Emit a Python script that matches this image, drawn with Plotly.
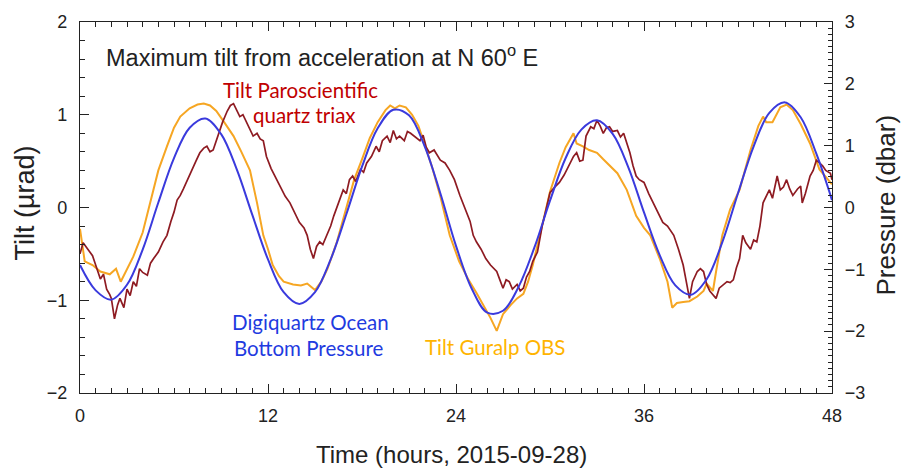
import plotly.graph_objects as go

# ---------------- data ----------------
hours_blue = list(range(0, 49))
pressure_dbar = [-0.93, -1.34, -1.49, -1.25, -0.68, 0.08, 0.80, 1.29, 1.44, 1.19, 0.62, -0.12,
                 -0.84, -1.37, -1.56, -1.37, -0.84, -0.11, 0.66, 1.28, 1.58, 1.49, 0.99, 0.23,
                 -0.62, -1.31, -1.70, -1.67, -1.28, -0.65, 0.11, 0.80, 1.26, 1.41, 1.19, 0.65,
                 -0.08, -0.77, -1.26, -1.41, -1.16, -0.56, 0.23, 0.99, 1.53, 1.70, 1.46, 0.87, 0.12]

hours_guralp = [0, 0.3, 0.8, 1.3, 1.9, 2.3, 2.6, 2.9, 3.4, 4.0, 4.5, 5.0, 5.55, 6.0, 6.4, 7.0, 7.5, 7.9,
                8.3, 8.7, 9.2, 9.8, 10.3, 10.85, 11.3, 11.7, 12.0, 12.3, 12.7, 13.0, 13.6, 14.1, 14.5,
                14.8, 15.0, 15.4, 15.8, 16.4, 17.0, 17.5, 18.0, 18.5, 19.0, 19.5, 19.8, 20.1, 20.4,
                20.8, 21.2, 21.6, 22.0, 22.5, 23.0, 23.6, 24.2, 24.8, 25.3, 25.8, 26.2, 26.6, 27.0,
                27.5, 27.9, 28.3, 28.6, 28.9, 29.3, 29.7, 30.0, 30.6, 31.0, 31.5, 31.7, 32.1, 32.5,
                33.0, 33.4, 33.8, 34.3, 34.9, 35.5, 36.0, 36.4, 37.0, 37.5, 37.8, 38.1, 38.5, 38.9,
                39.4, 39.8, 40.0, 40.4, 40.6, 41.0, 41.5, 42.1, 42.8, 43.3, 43.6, 43.8, 44.2, 44.7,
                45.1, 45.5, 46.0, 46.6, 47.2, 47.6, 48.0]
tilt_guralp = [-0.23, -0.58, -0.62, -0.69, -0.72, -0.66, -0.80, -0.70, -0.53, -0.27, 0.05, 0.40, 0.66,
               0.86, 0.98, 1.07, 1.11, 1.12, 1.10, 1.04, 0.92, 0.77, 0.60, 0.40, 0.05, -0.30, -0.45,
               -0.62, -0.74, -0.80, -0.83, -0.84, -0.82, -0.86, -0.89, -0.80, -0.66, -0.37, 0.00,
               0.30, 0.52, 0.75, 0.92, 1.05, 1.10, 1.07, 1.10, 1.08, 1.00, 0.88, 0.68, 0.42, 0.12,
               -0.30, -0.58, -0.78, -0.92, -1.07, -1.19, -1.33, -1.15, -1.05, -0.98, -0.93, -0.80,
               -0.62, -0.35, -0.05, 0.17, 0.48, 0.65, 0.80, 0.69, 0.66, 0.62, 0.59, 0.52, 0.45, 0.37,
               0.19, -0.09, -0.22, -0.30, -0.55, -0.80, -1.08, -1.03, -1.02, -1.01, -0.96, -0.90,
               -0.82, -0.90, -0.69, -0.30, -0.02, 0.19, 0.62, 0.88, 0.98, 0.92, 0.92, 1.08, 1.11,
               1.05, 0.90, 0.69, 0.41, 0.33, 0.25]

hours_paro = [0, 0.2, 0.5, 0.8, 1.0, 1.3, 1.5, 1.7, 1.9, 2.0, 2.2, 2.4, 2.55, 2.8, 3.0, 3.2, 3.4,
              3.6, 3.8, 4.0, 4.3, 4.5, 4.7, 5.0, 5.3, 5.55, 5.8, 6.0, 6.2, 6.4, 6.6, 6.8, 7.0, 7.2,
              7.4, 7.65, 7.9, 8.1, 8.3, 8.5, 8.7, 8.9, 9.1, 9.4, 9.6, 9.8, 10.0, 10.2, 10.4, 10.7,
              10.9, 11.05, 11.3, 11.5, 11.7, 11.9, 12.2, 12.55, 12.8, 13.1, 13.4, 13.7, 14.0, 14.3,
              14.5, 14.7, 14.9, 15.1, 15.3, 15.5, 15.8, 16.0, 16.2, 16.5, 16.8, 17.0, 17.2, 17.4,
              17.6, 17.9, 18.1, 18.3, 18.6, 18.9, 19.1, 19.3, 19.6, 19.8, 20.0, 20.2, 20.4, 20.7,
              20.9, 21.1, 21.4, 21.7, 21.9, 22.1, 22.3, 22.6, 23.0, 23.3, 23.6, 23.9, 24.25, 24.5,
              24.7, 24.9, 25.1, 25.3, 25.6, 25.9, 26.2, 26.4, 26.6, 26.8, 27.0, 27.2, 27.4, 27.6,
              27.9, 28.1, 28.3, 28.5, 28.7, 28.9, 29.2, 29.5, 29.8, 30.0, 30.3, 30.6, 30.9, 31.1,
              31.3, 31.5, 31.7, 31.9, 32.1, 32.3, 32.6, 32.8, 33.0, 33.2, 33.4, 33.6, 33.8, 34.0,
              34.3, 34.5, 34.7, 34.9, 35.1, 35.3, 35.5, 35.7, 36.0, 36.3, 36.6, 36.9, 37.2, 37.5,
              37.9, 38.2, 38.5, 38.7, 38.9, 39.1, 39.4, 39.6, 39.8, 40.0, 40.2, 40.4, 40.6, 40.8,
              41.0, 41.3, 41.5, 41.7, 41.9, 42.1, 42.3, 42.5, 42.8, 43.0, 43.2, 43.4, 43.6, 43.8,
              44.0, 44.2, 44.5, 44.7, 44.9, 45.1, 45.3, 45.5, 45.8, 46.0, 46.1, 46.3, 46.6, 46.8,
              47.0, 47.2, 47.4, 47.6, 47.9, 48.0]
tilt_paro = [-0.50, -0.38, -0.45, -0.52, -0.62, -0.77, -0.72, -0.88, -0.94, -0.98, -1.20, -1.05,
             -0.98, -1.08, -0.88, -0.95, -0.80, -0.85, -0.66, -0.70, -0.73, -0.60, -0.55, -0.48,
             -0.37, -0.30, -0.15, -0.05, 0.08, 0.13, 0.20, 0.28, 0.34, 0.42, 0.50, 0.59, 0.64, 0.66,
             0.60, 0.62, 0.72, 0.83, 0.92, 1.04, 1.10, 1.12, 1.05, 0.98, 1.00, 0.90, 0.82, 0.77,
             0.80, 0.74, 0.72, 0.55, 0.42, 0.30, 0.22, 0.12, 0.05, -0.05, -0.16, -0.22, -0.30,
             -0.45, -0.55, -0.42, -0.37, -0.40, -0.27, -0.20, -0.09, 0.05, 0.19, 0.15, 0.30, 0.34,
             0.28, 0.41, 0.38, 0.48, 0.55, 0.66, 0.60, 0.72, 0.77, 0.70, 0.83, 0.74, 0.77, 0.72,
             0.82, 0.80, 0.76, 0.72, 0.78, 0.65, 0.59, 0.62, 0.51, 0.48, 0.40, 0.30, 0.13, 0.02,
             -0.05, -0.15, -0.30, -0.37, -0.45, -0.55, -0.62, -0.65, -0.69, -0.78, -0.87, -0.78,
             -0.80, -0.88, -0.83, -0.90, -0.87, -0.75, -0.69, -0.58, -0.48, -0.20, 0.02, 0.16, 0.22,
             0.27, 0.35, 0.42, 0.48, 0.55, 0.59, 0.50, 0.51, 0.77, 0.87, 0.85, 0.94, 0.88, 0.80,
             0.86, 0.87, 0.82, 0.83, 0.76, 0.80, 0.70, 0.59, 0.45, 0.34, 0.30, 0.27, 0.15, 0.05,
             -0.06, -0.16, -0.20, -0.30, -0.45, -0.62, -0.80, -0.98, -0.80, -0.69, -0.66, -0.69,
             -0.83, -0.90, -0.94, -0.98, -0.87, -0.84, -0.80, -0.81, -0.78, -0.65, -0.55, -0.30,
             -0.38, -0.45, -0.35, -0.37, -0.20, 0.05, 0.12, 0.19, 0.10, 0.34, 0.19, 0.22, 0.30,
             0.20, 0.13, 0.20, 0.23, 0.05, 0.15, 0.34, 0.40, 0.51, 0.48, 0.45, 0.40, 0.37, 0.30]

x_ticks = [0, 12, 24, 36, 48]
tilt_ticks = [-2, -1, 0, 1, 2]
pressure_ticks = [-3, -2, -1, 0, 1, 2, 3]

# ---------------- figure ----------------
BLUE = "#3a3add"
ORANGE = "#f6a623"
DARKRED = "#8e1b22"
FONT = "Liberation Sans"
LABEL_FONT = "Lato"

fig = go.Figure()
fig.add_trace(go.Scatter(x=hours_blue, y=pressure_dbar, mode="lines", yaxis="y2",
                         line=dict(color=BLUE, width=2, shape="spline"), name="Digiquartz"))
fig.add_trace(go.Scatter(x=hours_guralp, y=tilt_guralp, mode="lines",
                         line=dict(color=ORANGE, width=2), name="Guralp"))
fig.add_trace(go.Scatter(x=hours_paro, y=tilt_paro, mode="lines",
                         line=dict(color=DARKRED, width=1.7), name="Paroscientific"))

axis_common = dict(showline=True, linecolor="#222", linewidth=1.2, ticks="inside",
                   tickcolor="#222", showgrid=False, zeroline=False,
                   tickfont=dict(family=FONT, size=18, color="#222"))

fig.update_layout(
    width=904, height=471,
    margin=dict(l=80, r=72, t=17, b=78),
    paper_bgcolor="white", plot_bgcolor="white",
    showlegend=False,
    xaxis=dict(range=[0, 48], tickvals=x_ticks, ticklen=9, tickwidth=1.2, mirror="ticks",
               minor=dict(dtick=1, ticklen=5, tickcolor="#222", ticks="inside", showgrid=False),
               ticklabelstandoff=6, **axis_common),
    yaxis=dict(range=[-2, 2], tickvals=tilt_ticks, ticklen=9, tickwidth=1.2, mirror=False,
               minor=dict(dtick=0.2, ticklen=5, tickcolor="#222", ticks="inside", showgrid=False),
               ticklabelstandoff=8, **axis_common),
    yaxis2=dict(range=[-3, 3], tickvals=pressure_ticks, ticklen=8, tickwidth=1.2,
                overlaying="y", side="right",
                minor=dict(dtick=0.1, ticklen=4, tickcolor="#222", ticks="inside", showgrid=False),
                ticklabelstandoff=8, **axis_common),
)

annotations = [
    dict(text="Maximum tilt from acceleration at N 60<sup>o</sup> E", x=104, y=51,
         font=dict(family=FONT, size=23.5, color="#222"), xanchor="left"),
    dict(text="Tilt Paroscientific", x=300, y=86, font=dict(family=LABEL_FONT, size=20.5, color="#c00000")),
    dict(text="quartz triax", x=304, y=111, font=dict(family=LABEL_FONT, size=20.5, color="#c00000")),
    dict(text="Digiquartz Ocean", x=310, y=321, font=dict(family=LABEL_FONT, size=20.5, color="#1f3be0")),
    dict(text="Bottom Pressure", x=308, y=347, font=dict(family=LABEL_FONT, size=20.5, color="#1f3be0")),
    dict(text="Tilt Guralp OBS", x=495, y=346, font=dict(family=LABEL_FONT, size=20.5, color="#ffb400")),
    dict(text="Time (hours, 2015-09-28)", x=451, y=455, font=dict(family=FONT, size=24, color="#222")),
    dict(text="Tilt (\u00b5rad)", x=25, y=201, textangle=-90, font=dict(family=FONT, size=27, color="#222")),
    dict(text="Pressure (dbar)", x=886, y=203, textangle=-90, font=dict(family=FONT, size=26, color="#222")),
]
W, H, L, R, T, B = 904, 471, 80, 72, 17, 78
for a in annotations:
    fig.add_annotation(
        text=a["text"], xref="paper", yref="paper",
        x=(a["x"] - L) / (W - L - R),
        y=(H - B - a["y"]) / (H - T - B),
        xanchor=a.get("xanchor", "center"), yanchor="middle",
        showarrow=False, font=a["font"], textangle=a.get("textangle", 0),
    )

fig.write_html("out.html")
